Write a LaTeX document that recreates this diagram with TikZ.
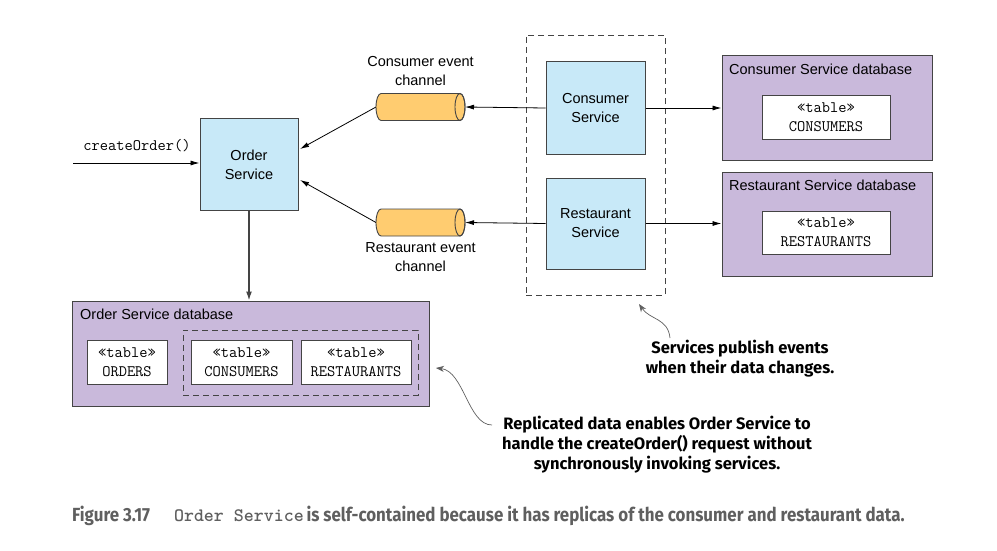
\documentclass[tikz,border=0pt]{standalone}
\usepackage{fontspec}
\setmainfont{Liberation Sans}
\newfontfamily\calloutfont{Fira Sans}
\newfontfamily\capfont[FakeStretch=0.89]{Fira Sans}
\usetikzlibrary{shapes.geometric,arrows.meta}
\definecolor{svcblue}{RGB}{200,233,248}
\definecolor{dbpurple}{RGB}{201,185,219}
\definecolor{chanorange}{RGB}{255,204,112}
\definecolor{edgegray}{RGB}{68,68,68}
\definecolor{capgray}{RGB}{95,95,95}
\tikzset{
  svc/.style={draw=edgegray, fill=svcblue, line width=1pt, inner sep=0pt, align=center,
    font=\fontsize{14.5}{19}\selectfont},
  db/.style={draw=edgegray, fill=dbpurple, line width=1pt, inner sep=0pt},
  dbtitle/.style={anchor=north west, inner sep=0pt, font=\fontsize{14.5}{17}\selectfont},
  tbl/.style={draw=edgegray, fill=white, line width=1pt, inner sep=0pt, align=center,
    font=\ttfamily\fontsize{16}{19}\selectfont},
  chan/.style={rectangle, minimum width=89pt, minimum height=27pt, inner sep=0pt, outer sep=0pt},
  chanbody/.style={draw=edgegray, fill=chanorange, line width=0.9pt},
  lbl/.style={inner sep=0pt, align=center, font=\fontsize{14.5}{19}\selectfont},
  grp/.style={draw=edgegray, dashed, dash pattern=on 6pt off 4pt, line width=0.9pt},
  conn/.style={draw=black, line width=0.8pt, -{Latex[length=9pt,width=5pt]}},
  callarrow/.style={draw=capgray, line width=0.7pt, -{Stealth[length=8pt,width=6pt]}},
  callout/.style={inner sep=0pt, align=center, font=\calloutfont\bfseries\fontsize{16.5}{20}\selectfont},
}
\newcommand{\drawchan}[1]{%
  \begin{scope}[y=1pt]
  \draw[chanbody] ([xshift=5pt]#1.north west)
     arc[start angle=90, end angle=270, x radius=5pt, y radius=13.5pt]
     -- ([xshift=-5pt]#1.south east)
     arc[start angle=-90, end angle=90, x radius=5pt, y radius=13.5pt] -- cycle;
  \draw[chanbody, fill=none] ([xshift=-5pt]#1.east) ellipse[x radius=5pt, y radius=13.5pt];
  \end{scope}}
\begin{document}
\begin{tikzpicture}[x=1pt,y=-1pt]
\useasboundingbox (0,0) rectangle (997,551);
% group
\node[grp, minimum width=139pt, minimum height=260pt, inner sep=0pt] (grp) at (595.5,165) {};
% services
\node[svc, minimum width=98pt, minimum height=91pt] (order) at (249,164.5) {Order\\Service};
\node[svc, minimum width=99pt, minimum height=92pt] (cons) at (595.5,108) {Consumer\\Service};
\node[svc, minimum width=99pt, minimum height=91pt] (rest) at (595.5,223.5) {Restaurant\\Service};
% channels
\node[chan] (cchan) at (420.5,107) {};
\node[chan] (rchan) at (420.5,222.5) {};
\drawchan{cchan}
\drawchan{rchan}
\node[lbl] (cchanl) at (420.5,71) {Consumer event\\channel};
\node[lbl] (rchanl) at (420.5,257) {Restaurant event\\channel};
% consumer db
\node[db, minimum width=210pt, minimum height=104pt] (cdb) at (827,108) {};
\node[dbtitle] (cdbt) at (729,63.5) {Consumer Service database};
\node[tbl, minimum width=128pt, minimum height=43pt] (ctbl) at (826,117.5) {«table»\\CONSUMERS};
% restaurant db
\node[db, minimum width=210pt, minimum height=104pt] (rdb) at (827,224) {};
\node[dbtitle] (rdbt) at (729,179.5) {Restaurant Service database};
\node[tbl, minimum width=128pt, minimum height=43pt] (rtbl) at (826,232.5) {«table»\\RESTAURANTS};
% order db
\node[db, minimum width=357pt, minimum height=105pt] (odb) at (250.5,353.5) {};
\node[dbtitle] (odbt) at (80,308.5) {Order Service database};
\node[grp, minimum width=235pt, minimum height=65pt, inner sep=0pt] (rgrp) at (300.5,362.5) {};
\node[tbl, minimum width=80pt, minimum height=44pt] (otbl) at (127,362) {«table»\\ORDERS};
\node[tbl, minimum width=101pt, minimum height=44pt] (octbl) at (241.5,362) {«table»\\CONSUMERS};
\node[tbl, minimum width=110pt, minimum height=44pt] (ortbl) at (356,362) {«table»\\RESTAURANTS};
% createOrder
\coordinate (cin) at (73,163);
\node[inner sep=0pt, font=\ttfamily\fontsize{16}{17}\selectfont] (col) at (137,146) {createOrder()};
\draw[conn] (cin) -- (cin -| order.west);
% connectors
\draw[conn] (cons.west) -- (cchan.east);
\draw[conn] (rest.west) -- (rchan.east);
\draw[conn] (cchan.west) -- (300,149);
\draw[conn] (rchan.west) -- (300,180);
\draw[conn] (cons.east) -- (cons.east -| cdb.west);
\draw[conn] (rest.east) -- (rest.east -| rdb.west);
\draw[draw=edgegray, line width=1.4pt, -{Latex[length=9pt,width=6pt]}] (order.south) -- (odb.north -| order.south);
% callouts
\node[callout] (c1) at (740,359) {Services publish events\\when their data changes.};
\node[callout] (c2) at (657,445) {Replicated data enables Order Service to\\handle the createOrder() request without\\synchronously invoking services.};
\draw[callarrow] (670,338) .. controls (668,318) and (650,320) .. (639,304);
\draw[callarrow] (492,425) .. controls (468,425) and (464,371) .. (436,368);
% caption
\node[anchor=west, inner sep=0pt, text=capgray] (cap) at (72,516)
  {{\capfont\bfseries\fontsize{19}{22}\selectfont Figure 3.17}\hspace{24pt}{\ttfamily\bfseries\fontsize{19}{22}\selectfont Order Service} {\capfont\bfseries\fontsize{19}{22}\selectfont is self-contained because it has replicas of the consumer and restaurant data.}};
\end{tikzpicture}
\end{document}
